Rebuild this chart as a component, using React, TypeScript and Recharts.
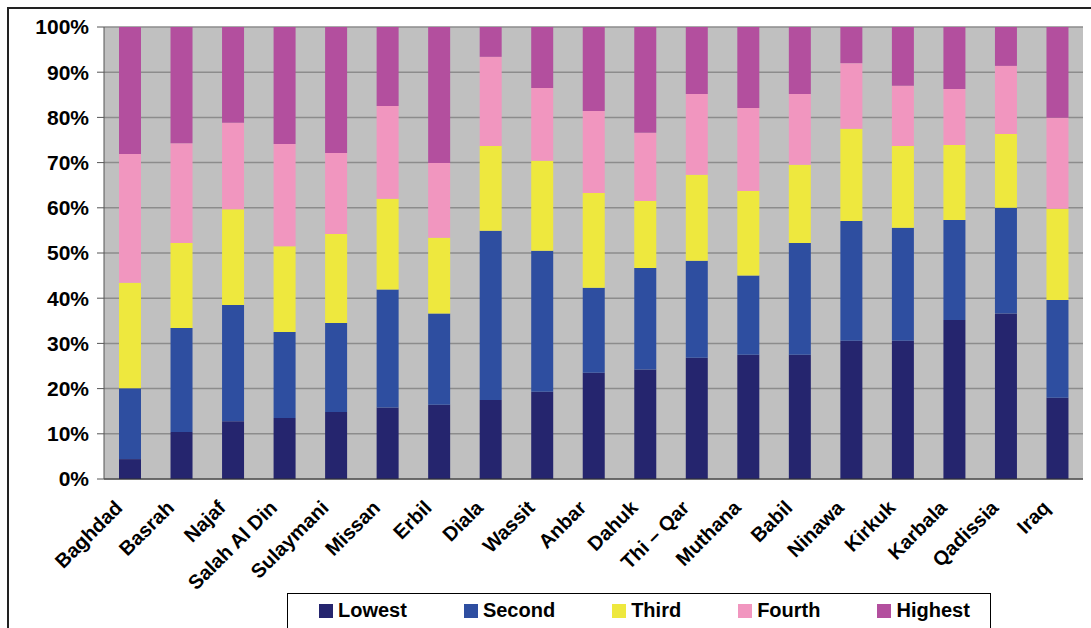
import React from "react";
import { BarChart, Bar, XAxis, YAxis, CartesianGrid } from "recharts";

const categories = [
  "Baghdad", "Basrah", "Najaf", "Salah Al Din", "Sulaymani", "Missan", "Erbil",
  "Diala", "Wassit", "Anbar", "Dahuk", "Thi – Qar", "Muthana", "Babil",
  "Ninawa", "Kirkuk", "Karbala", "Qadissia", "Iraq",
];

// share of each quintile, in percent
const lowest = [4.4, 10.4, 12.8, 13.5, 14.8, 15.8, 16.4, 17.5, 19.3, 23.5, 24.2, 26.8, 27.5, 27.5, 30.6, 30.6, 35.2, 36.6, 18.0];
const second = [15.7, 23.0, 25.7, 19.0, 19.7, 26.1, 20.2, 37.4, 31.2, 18.8, 22.5, 21.5, 17.5, 24.7, 26.5, 25.0, 22.1, 23.4, 21.6];
const third = [23.3, 18.8, 21.2, 19.0, 19.7, 20.1, 16.8, 18.8, 19.9, 21.0, 14.8, 19.0, 18.7, 17.3, 20.4, 18.1, 16.6, 16.3, 20.2];
const fourth = [28.5, 22.1, 19.1, 22.6, 17.9, 20.5, 16.5, 19.7, 16.1, 18.1, 15.1, 17.9, 18.4, 15.7, 14.5, 13.3, 12.4, 15.1, 20.1];
const highest = [28.1, 25.7, 21.2, 25.9, 27.9, 17.5, 30.1, 6.6, 13.5, 18.6, 23.4, 14.8, 17.9, 14.8, 8.0, 13.0, 13.7, 8.6, 20.1];

const yTicks = [0, 10, 20, 30, 40, 50, 60, 70, 80, 90, 100];

const series = [
  { key: "lowest", name: "Lowest", color: "#25256E" },
  { key: "second", name: "Second", color: "#2E4EA0" },
  { key: "third", name: "Third", color: "#EEE83E" },
  { key: "fourth", name: "Fourth", color: "#F196BF" },
  { key: "highest", name: "Highest", color: "#B34F9E" },
];

const data = categories.map((name, i) => ({
  name,
  lowest: lowest[i],
  second: second[i],
  third: third[i],
  fourth: fourth[i],
  highest: highest[i],
}));

const edgeTicks = categories.map((_, i) => i).concat(categories.length);

const FONT = "Arial, 'Liberation Sans', sans-serif";

function CategoryTick(props: any) {
  const { x, y, payload } = props;
  const bx = x - 6;
  const by = y + 22;
  return (
    <text
      x={bx}
      y={by}
      transform={`rotate(-45, ${bx}, ${by})`}
      textAnchor="end"
      fontFamily={FONT}
      fontWeight="bold"
      fontSize={20}
      fill="#000"
    >
      {payload.value}
    </text>
  );
}

function QuintileLegend() {
  return (
    <div
      style={{
        position: "absolute",
        left: 287,
        top: 593,
        width: 704,
        height: 50,
        border: "1px solid #000",
        background: "#fff",
        fontFamily: FONT,
        fontWeight: "bold",
        fontSize: 20,
        display: "flex",
        alignItems: "flex-start",
        gap: 57,
        paddingLeft: 31,
        paddingTop: 5,
        boxSizing: "border-box",
      }}
    >
      {series.map((s) => (
        <div
          key={s.key}
          style={{ display: "flex", alignItems: "center", whiteSpace: "nowrap" }}
        >
          <span
            style={{
              display: "inline-block",
              width: 14,
              height: 14,
              background: s.color,
              marginRight: 5,
            }}
          />
          {s.name}
        </div>
      ))}
    </div>
  );
}

export default function App() {
  return (
    <div
      style={{
        position: "absolute",
        left: 0,
        top: 0,
        width: 1091,
        height: 628,
        overflow: "hidden",
        background: "#fff",
      }}
    >
      <div
        style={{
          position: "absolute",
          left: 7,
          top: 7,
          width: 1120,
          height: 660,
          border: "2px solid #222",
        }}
      />
      <div style={{ position: "absolute", left: 0, top: 0 }}>
        <BarChart
          width={1091}
          height={628}
          data={data}
          stackOffset="expand"
          barSize={22}
          margin={{ top: 27, right: 8, left: 0, bottom: 0 }}
        >
          <CartesianGrid vertical={false} fill="#C0C0C0" stroke="#8C8C8C" strokeWidth={1.5} />
          <XAxis
            xAxisId="edges"
            type="number"
            domain={[0, categories.length]}
            ticks={edgeTicks}
            allowDataOverflow
            height={0}
            tick={false}
            axisLine={false}
            tickLine={{ stroke: "#333" }}
            tickSize={6}
          />
          <XAxis
            dataKey="name"
            interval={0}
            height={149}
            tickLine={false}
            axisLine={{ stroke: "#333" }}
            tick={<CategoryTick />}
          />
          <YAxis
            width={104}
            domain={[0, 1]}
            ticks={yTicks.map((t) => t / 100)}
            tickFormatter={(v: number) => `${Math.round(v * 100)}%`}
            tickSize={7}
            tickMargin={8}
            axisLine={{ stroke: "#555" }}
            tickLine={{ stroke: "#555" }}
            tick={{ fill: "#000", fontSize: 21, fontWeight: "bold", fontFamily: FONT }}
          />
          <YAxis
            yAxisId="frame"
            orientation="right"
            width={0}
            tick={false}
            tickLine={false}
            axisLine={{ stroke: "#8C8C8C" }}
          />
          {series.map((s) => (
            <Bar
              key={s.key}
              dataKey={s.key}
              name={s.name}
              stackId="q"
              fill={s.color}
              isAnimationActive={false}
            />
          ))}
        </BarChart>
      </div>
      <QuintileLegend />
    </div>
  );
}
